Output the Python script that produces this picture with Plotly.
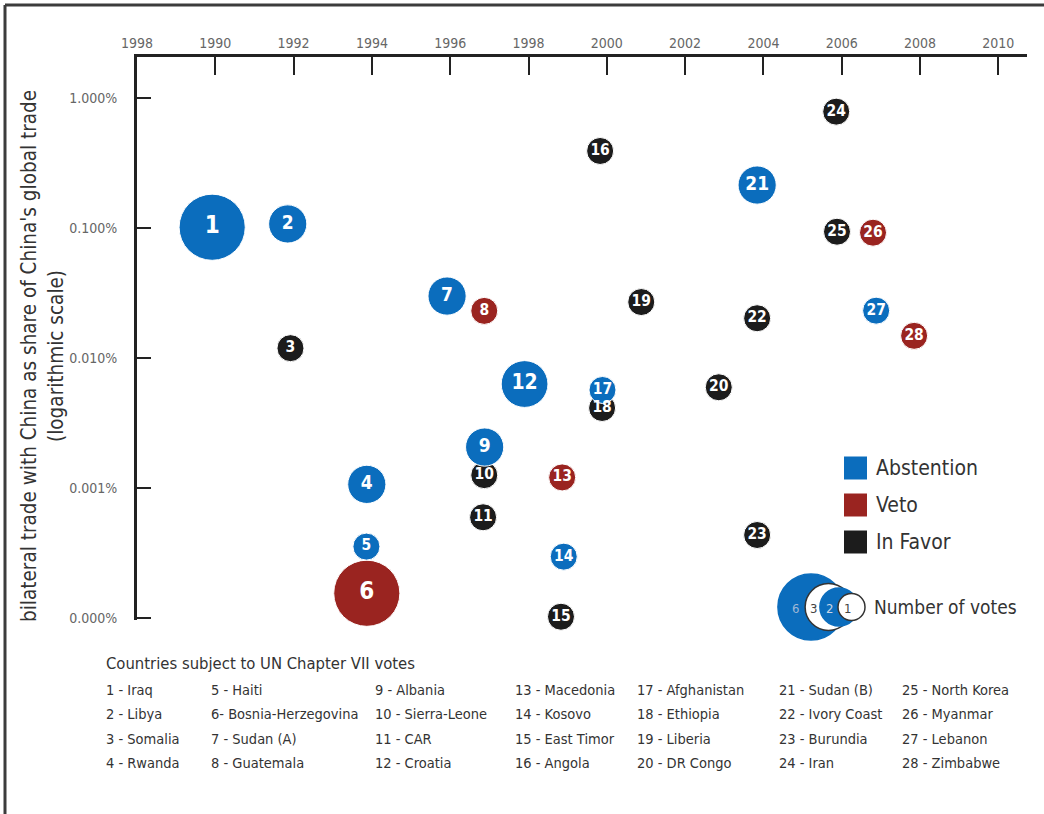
import plotly.graph_objects as go

# ---- data -------------------------------------------------------------
case_id = list(range(1, 29))
key_labels = [
    "1 - Iraq", "2 - Libya", "3 - Somalia", "4 - Rwanda",
    "5 - Haiti", "6- Bosnia-Herzegovina", "7 - Sudan (A)", "8 - Guatemala",
    "9 - Albania", "10 - Sierra-Leone", "11 - CAR", "12 - Croatia",
    "13 - Macedonia", "14 - Kosovo", "15 - East Timor", "16 - Angola",
    "17 - Afghanistan", "18 - Ethiopia", "19 - Liberia", "20 - DR Congo",
    "21 - Sudan (B)", "22 - Ivory Coast", "23 - Burundia", "24 - Iran",
    "25 - North Korea", "26 - Myanmar", "27 - Lebanon", "28 - Zimbabwe",
]
vote_year = [1989.92, 1991.85, 1991.92, 1993.87, 1993.86, 1993.87, 1995.92,
             1996.87, 1996.88, 1996.87, 1996.84, 1997.90, 1998.86, 1998.90,
             1998.83, 1999.83, 1999.89, 1999.88, 2000.88, 2002.86, 2003.84,
             2003.84, 2003.84, 2005.86, 2005.88, 2006.80, 2006.88, 2007.85]
# bilateral trade with China as % of China's global trade
trade_share = [0.101, 0.107, 0.0119, 0.00107, 0.000356, 0.000156, 0.0299,
               0.0230, 0.00207, 0.00126, 0.000598, 0.00631, 0.00121, 0.000298,
               0.000103, 0.389, 0.00568, 0.00413, 0.0269, 0.00596, 0.213,
               0.0202, 0.000437, 0.780, 0.0933, 0.0917, 0.0231, 0.0148]
votes = [6, 2, 1, 2, 1, 6, 2, 1, 2, 1, 1, 3, 1, 1, 1, 1, 1, 1, 1, 1, 2, 1, 1,
         1, 1, 1, 1, 1]
vote_type = ["Abstention", "Abstention", "In Favor", "Abstention", "Abstention",
             "Veto", "Abstention", "Veto", "Abstention", "In Favor", "In Favor",
             "Abstention", "Veto", "Abstention", "In Favor", "In Favor",
             "Abstention", "In Favor", "In Favor", "In Favor", "Abstention",
             "In Favor", "In Favor", "In Favor", "In Favor", "Veto",
             "Abstention", "Veto"]

x_tick_vals = [1988, 1990, 1992, 1994, 1996, 1998, 2000, 2002, 2004, 2006, 2008, 2010]
x_tick_text = ["1998", "1990", "1992", "1994", "1996", "1998", "2000", "2002",
               "2004", "2006", "2008", "2010"]
y_tick_vals = [1, 0.1, 0.01, 0.001, 0.0001]
y_tick_text = ["1.000%", "0.100%", "0.010%", "0.001%", "0.000%"]

legend_types = ["Abstention", "Veto", "In Favor"]
size_key_votes = [6, 3, 2, 1]

# ---- styling ----------------------------------------------------------
COLORS = {"Abstention": "#0b6dbd", "Veto": "#9a2420", "In Favor": "#1c1c1c"}
FONT = "Liberation Sans Narrow, DejaVu Sans Condensed, Arial Narrow, sans-serif"
W, H = 1044, 814
PL, PR, PT, PB = 137, 1027, 57, 620          # plot area in pixels
X_RANGE = [1988, 1988 + (PR - PL) / 39.15]
Y_RANGE = [-4.0123, 0.3118]                  # log10 of percent
SIZEREF = 1 / 19.1 ** 2                      # bubble area proportional to votes
TEXT_SIZE = {1: 15.5, 2: 19, 3: 21, 6: 24}


def paper_x(px):
    return (px - PL) / (PR - PL)


def paper_y(py):
    return (PB - py) / (PB - PT)


def data_x(px):
    return X_RANGE[0] + (px - PL) / (PR - PL) * (X_RANGE[1] - X_RANGE[0])


def data_y(py):
    frac = (PB - py) / (PB - PT)
    return 10 ** (Y_RANGE[0] + frac * (Y_RANGE[1] - Y_RANGE[0]))


fig = go.Figure()

# bubbles, drawn from the last case to the first so lower ids sit on top
order = list(range(len(case_id)))[::-1]
fig.add_trace(go.Scatter(
    x=[vote_year[i] for i in order],
    y=[trade_share[i] for i in order],
    mode="markers+text",
    text=[f"<b>{case_id[i]}</b>" for i in order],
    textposition="middle center",
    textfont=dict(family=FONT, color="white",
                  size=[TEXT_SIZE[votes[i]] for i in order]),
    marker=dict(
        size=[votes[i] for i in order],
        sizemode="area",
        sizeref=SIZEREF,
        color=[COLORS[vote_type[i]] for i in order],
        opacity=1,
        line=dict(width=1, color="white"),
    ),
    hoverinfo="skip",
    showlegend=False,
    cliponaxis=False,
))

# number-of-votes key: nested circles
key_px = [811, 828.5, 839, 851.5]
key_fill = [COLORS["Abstention"], "white", COLORS["Abstention"], "white"]
key_line = [COLORS["Abstention"], "#333333", COLORS["Abstention"], "#333333"]
fig.add_trace(go.Scatter(
    x=[data_x(p) for p in key_px],
    y=[data_y(607)] * 4,
    mode="markers",
    marker=dict(size=size_key_votes, sizemode="area", sizeref=SIZEREF,
                color=key_fill, line=dict(width=1.5, color=key_line), opacity=1),
    hoverinfo="skip",
    showlegend=False,
    cliponaxis=False,
))

annotations = []
shapes = []

key_label_px = [795, 813, 829, 847]
key_label_col = ["#9fb8d6", "#444444", "#c9d6e6", "#444444"]
for v, p, c in zip(size_key_votes, key_label_px, key_label_col):
    annotations.append(dict(x=paper_x(p), y=paper_y(608), xref="paper", yref="paper",
                            text=str(v), showarrow=False, xanchor="center",
                            yanchor="middle", font=dict(family=FONT, size=13, color=c)))
annotations.append(dict(x=paper_x(872), y=paper_y(607), xref="paper", yref="paper",
                        text="Number of votes", showarrow=False, xanchor="left",
                        yanchor="middle", font=dict(family=FONT, size=19, color="#333333")))

# colour key
for t, cy in zip(legend_types, [468, 505, 542]):
    shapes.append(dict(type="rect", xref="paper", yref="paper",
                       x0=paper_x(844), x1=paper_x(867),
                       y0=paper_y(cy - 11.5), y1=paper_y(cy + 11.5),
                       fillcolor=COLORS[t], line=dict(width=0)))
    annotations.append(dict(x=paper_x(874), y=paper_y(cy), xref="paper", yref="paper",
                            text=t, showarrow=False, xanchor="left", yanchor="middle",
                            font=dict(family=FONT, size=21, color="#333333")))

# y-axis title
annotations.append(dict(
    x=paper_x(42), y=paper_y(356), xref="paper", yref="paper",
    text="bilateral trade with China as share of China's global trade<br>(logarithmic scale)",
    showarrow=False, textangle=-90, xanchor="center", yanchor="middle",
    font=dict(family=FONT, size=20.5, color="#333333")))

# country key below the chart
annotations.append(dict(x=paper_x(104), y=paper_y(663), xref="paper", yref="paper",
                        text="Countries subject to UN Chapter VII votes", showarrow=False,
                        xanchor="left", yanchor="middle",
                        font=dict(family=FONT, size=16.5, color="#333333")))
col_px = [104, 209, 373, 513, 635, 777, 900]
row_py = [690, 714, 739, 763]
for k, label in enumerate(key_labels):
    c, r = divmod(k, 4)
    annotations.append(dict(x=paper_x(col_px[c]), y=paper_y(row_py[r]),
                            xref="paper", yref="paper", text=label, showarrow=False,
                            xanchor="left", yanchor="middle",
                            font=dict(family=FONT, size=14.5, color="#333333")))

# outer frame (top and left edges)
shapes.append(dict(type="line", xref="paper", yref="paper",
                   x0=paper_x(5), x1=paper_x(W), y0=paper_y(5), y1=paper_y(5),
                   line=dict(color="#3c3c3c", width=3)))
shapes.append(dict(type="line", xref="paper", yref="paper",
                   x0=paper_x(5), x1=paper_x(5), y0=paper_y(5), y1=paper_y(H),
                   line=dict(color="#3c3c3c", width=3)))

fig.update_layout(
    width=W, height=H,
    margin=dict(l=PL, r=W - PR, t=PT, b=H - PB, pad=0),
    paper_bgcolor="white", plot_bgcolor="white",
    font=dict(family=FONT, color="#333333"),
    annotations=annotations,
    shapes=shapes,
    xaxis=dict(
        side="top", range=X_RANGE, tickvals=x_tick_vals, ticktext=x_tick_text,
        showgrid=False, zeroline=False, showline=True, linecolor="#222222",
        linewidth=3, ticks="inside", ticklen=18, tickwidth=2, tickcolor="#222222",
        tickfont=dict(family=FONT, size=14, color="#666666"),
        ticklabelstandoff=0,
    ),
    yaxis=dict(
        type="log", range=Y_RANGE, tickvals=y_tick_vals, ticktext=y_tick_text,
        showgrid=False, zeroline=False, showline=True, linecolor="#222222",
        linewidth=3, ticks="inside", ticklen=14, tickwidth=2, tickcolor="#222222",
        tickfont=dict(family=FONT, size=14, color="#666666"),
        ticklabelstandoff=14,
    ),
)

fig.write_html("out.html")
